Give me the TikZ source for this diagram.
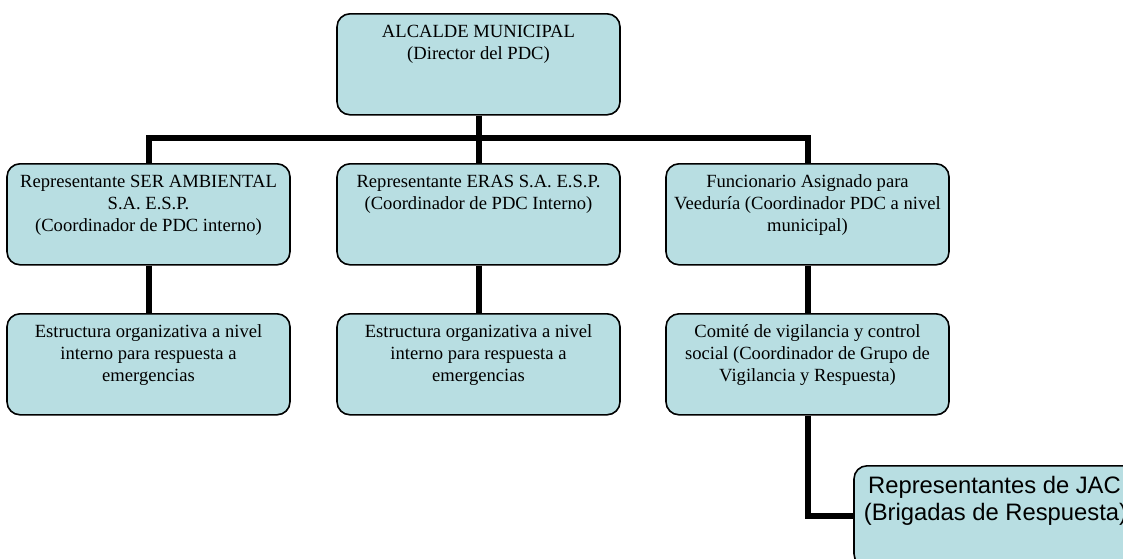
\documentclass[tikz,border=0pt]{standalone}
\usepackage{fontspec}
\setmainfont{Liberation Serif}
\newfontfamily\arialfont{Liberation Sans}
\definecolor{boxfill}{RGB}{184,222,226}
\tikzset{
  orgbox/.style={draw=black, line width=1.6pt, fill=boxfill, rounded corners=13pt,
    inner sep=0pt, minimum width=283pt, minimum height=101pt, anchor=north},
  link/.style={line width=6pt, black, line join=miter},
}
\newcommand{\boxtext}[1]{\parbox[t][101pt][t]{283pt}{\centering\fontsize{18.6}{22}\selectfont\vspace*{8.6pt}\strut #1\par}}
\newcommand{\sanstext}[1]{\parbox[t][101pt][t]{283pt}{\centering\arialfont\fontsize{23.8}{27}\selectfont\vspace*{9pt}\hspace*{-2pt}\strut #1\par}}
\begin{document}
\begin{tikzpicture}[x=1pt,y=-1pt]
\useasboundingbox (0,0) rectangle (1123,558);
\clip (0,0) rectangle (1123,558);
\node[orgbox] (top) at (478.5,13) {\boxtext{ALCALDE MUNICIPAL\\(Director del PDC)}};
\node[orgbox] (left1) at (148.5,163) {\boxtext{Representante SER AMBIENTAL\\S.A. E.S.P.\\(Coordinador de PDC interno)}};
\node[orgbox] (mid1) at (478.5,163) {\boxtext{Representante ERAS S.A. E.S.P.\\(Coordinador de PDC Interno)}};
\node[orgbox] (right1) at (807.5,163) {\boxtext{Funcionario Asignado para\\Veeduría (Coordinador PDC a nivel\\municipal)}};
\node[orgbox] (left2) at (148.5,313) {\boxtext{Estructura organizativa a nivel\\interno para respuesta a\\emergencias}};
\node[orgbox] (mid2) at (478.5,313) {\boxtext{Estructura organizativa a nivel\\interno para respuesta a\\emergencias}};
\node[orgbox] (right2) at (807.5,313) {\boxtext{Comité de vigilancia y control\\social (Coordinador de Grupo de\\Vigilancia y Respuesta)}};
\node[orgbox] (last) at (995.5,465) {\sanstext{Representantes de JAC\\(Brigadas de Respuesta)}};
\coordinate (bar) at (478.5,138);
\draw[link] (top.south) -- (mid1.north);
\draw[link] (left1.north) -- (left1.north |- bar) -- (right1.north |- bar) -- (right1.north);
\draw[link] (left1.south) -- (left2.north);
\draw[link] (mid1.south) -- (mid2.north);
\draw[link] (right1.south) -- (right2.north);
\draw[link] (right2.south) |- (last.west);
\end{tikzpicture}
\end{document}
